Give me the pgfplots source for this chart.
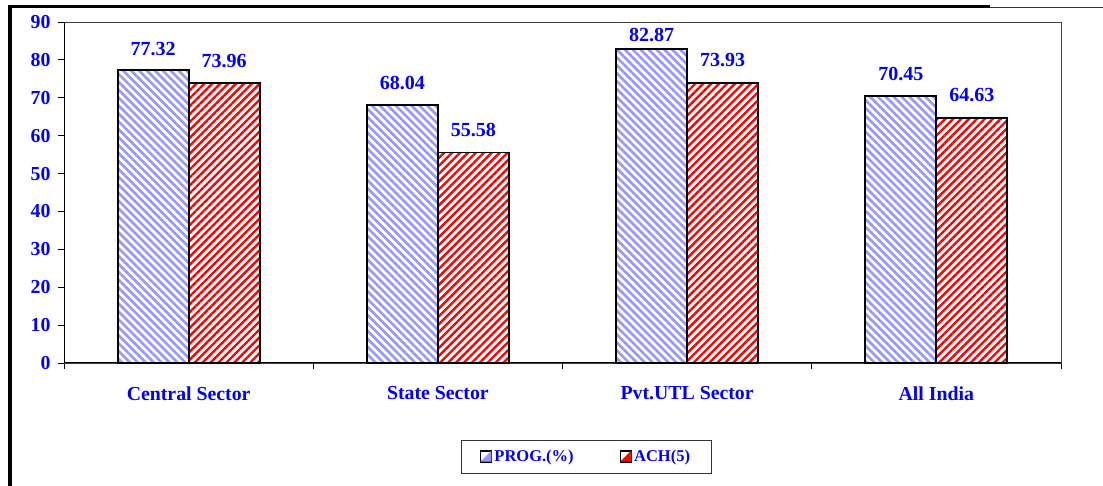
\documentclass[border=0pt]{standalone}
\usepackage{pgfplots}
\pgfplotsset{compat=1.18}
\usepackage{fontspec}
\setmainfont{Liberation Serif}
\usetikzlibrary{patterns.meta}
\definecolor{txtblue}{RGB}{0,0,255}
\definecolor{progblue}{RGB}{150,150,255}
\definecolor{achred}{RGB}{255,0,0}
\pgfplotstableread{
x prog ach po ao
0 77.32 73.96 13.5 14.5
1 68.04 55.58 14.5 14.5
2 82.87 73.93 6.5 15.5
3 70.45 64.63 14.5 15
}\datatable
\begin{document}
\begin{tikzpicture}
\path[use as bounding box] (0pt,0pt) rectangle (1103pt,486pt);
\draw[line width=3.5pt] (10pt,0pt) -- (10pt,479.5pt) -- (990pt,479.5pt);
\draw[line width=1pt, black!80] (990pt,478.5pt) -- (1103pt,478.5pt);
\begin{axis}[
  at={(64pt,123pt)}, anchor=south west, scale only axis,
  width=997pt, height=341pt,
  xmin=-0.5, xmax=3.5, ymin=0, ymax=90,
  ytick={0,10,...,90},
  xtick={0,1,2,3},
  xticklabels={Central Sector, State Sector, Pvt.UTL Sector, All India},
  minor xtick={-0.5,0.5,1.5,2.5,3.5},
  major x tick style={draw=none},
  tick align=outside,
  xtick pos=left, ytick pos=left,
  major tick length=6pt, minor tick length=6pt,
  tick style={black, line width=0.8pt},
  axis line style={draw=black!75, line width=0.8pt},
  ticklabel style={font=\fontsize{19.8}{22}\selectfont\bfseries, text=txtblue},
  xticklabel style={yshift=-14pt},
  yticklabel style={xshift=-4pt},
  /pgf/number format/assume math mode=true,
  ybar, bar width=71pt,
  nodes near coords={\pgfmathprintnumber[fixed,precision=2,fixed zerofill]{\pgfplotspointmeta}},
  clip=false,
  legend columns=2,
  legend style={at={(0.5236,-0.274)}, anchor=center, draw=black!80, line width=0.8pt,
    font=\fontsize{16.5}{19}\selectfont\bfseries, text=txtblue,
    inner xsep=19pt, inner ysep=8pt,
    /tikz/every even column/.append style={column sep=44pt}},
  legend cell align=left,
]
\addlegendimage{legend image code/.code={
  \draw[black, line width=1.4pt, fill=white] (0pt,-5.5pt) rectangle (11pt,5.5pt);
  \fill[progblue] (0.7pt,-4.8pt) -- (10.3pt,-4.8pt) -- (10.3pt,4.8pt) -- cycle;}}
\addlegendentry{PROG.(\%)}
\addlegendimage{legend image code/.code={
  \draw[black, line width=1.4pt, fill=white] (0pt,-5.5pt) rectangle (11pt,5.5pt);
  \fill[achred] (0.7pt,-4.8pt) -- (10.3pt,-4.8pt) -- (10.3pt,4.8pt) -- cycle;}}
\addlegendentry{ACH(5)}
\addplot[forget plot, bar shift=-35.5pt, draw=black, line width=1.8pt,
  pattern={Lines[angle=-45,distance=5.6pt,line width=2.6pt]}, pattern color=progblue,
  visualization depends on={\thisrow{po} \as \myoff},
  every node near coord/.append style={font=\fontsize{20}{22}\selectfont\bfseries, text=txtblue, anchor=south, inner sep=0pt, yshift=\myoff pt}]
  table[x=x, y=prog] {\datatable};
\addplot[forget plot, bar shift=35.5pt, draw=black, line width=1.8pt,
  pattern={Lines[angle=45,distance=5.6pt,line width=2.4pt]}, pattern color=achred,
  visualization depends on={\thisrow{ao} \as \myoff},
  every node near coord/.append style={font=\fontsize{20}{22}\selectfont\bfseries, text=txtblue, anchor=south, inner sep=0pt, yshift=\myoff pt}]
  table[x=x, y=ach] {\datatable};
\draw[black, line width=1pt] (rel axis cs:0,1) -- (rel axis cs:0,0) -- (rel axis cs:1,0);
\end{axis}
\end{tikzpicture}
\end{document}
